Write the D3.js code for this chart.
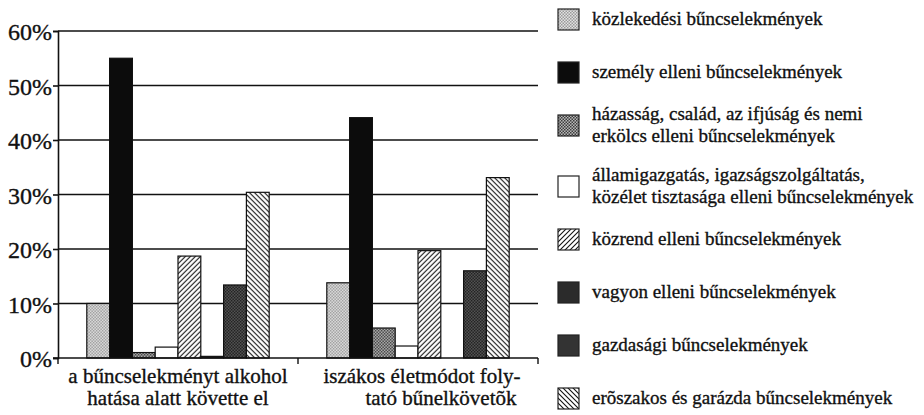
<!DOCTYPE html>
<html>
<head>
<meta charset="utf-8">
<script src="https://cdn.jsdelivr.net/npm/d3@7"></script>
<style>
  body { margin: 0; background: #fff; }
  svg { display: block; }
  text { font-family: "Liberation Serif", "Times New Roman", serif; fill: #111; stroke: #111; stroke-width: 0.35px; }
</style>
</head>
<body>
<div id="chart"></div>
<script>
const width = 924;
const height = 415;

// data
const groups = [
    ["a bűncselekményt alkohol", "hatása alatt követte el"],
    ["iszákos életmódot foly-", "tató bűnelkövetõk"]
];
const seriesNames = [
    ["közlekedési bűncselekmények"],
    ["személy elleni bűncselekmények"],
    ["házasság, család, az ifjúság és nemi", "erkölcs elleni bűncselekmények"],
    ["államigazgatás, igazságszolgáltatás,", "közélet tisztasága elleni bűncselekmények"],
    ["közrend elleni bűncselekmények"],
    ["vagyon elleni bűncselekmények"],
    ["gazdasági bűncselekmények"],
    ["erõszakos és garázda bűncselekmények"]
];
const alkoholValues = [10, 55, 1, 2, 18.7, 0.3, 13.4, 30.4];
const iszakosValues = [13.8, 44.1, 5.5, 2.2, 19.7, 0, 16, 33.1];
const yTicks = [0, 10, 20, 30, 40, 50, 60];

const values = [alkoholValues, iszakosValues];

const svg = d3.select('#chart').append('svg').attr('width', width).attr('height', height);

// patterns
const defs = svg.append('defs');

function dotPattern(id, bg, fg, size) {
    const p = defs.append('pattern').attr('id', id).attr('patternUnits', 'userSpaceOnUse')
        .attr('width', size).attr('height', size);
    p.append('rect').attr('width', size).attr('height', size).attr('fill', bg);
    p.append('rect').attr('width', size / 2).attr('height', size / 2).attr('fill', fg);
    p.append('rect').attr('x', size / 2).attr('y', size / 2).attr('width', size / 2).attr('height', size / 2).attr('fill', fg);
}
function hatchPattern(id, dir) {
    const s = 5;
    const p = defs.append('pattern').attr('id', id).attr('patternUnits', 'userSpaceOnUse')
        .attr('width', s).attr('height', s);
    p.append('rect').attr('width', s).attr('height', s).attr('fill', '#fff');
    const d = dir > 0
        ? `M0,${s} L${s},0 M-1,1 L1,-1 M${s - 1},${s + 1} L${s + 1},${s - 1}`
        : `M0,0 L${s},${s} M-1,${s - 1} L1,${s + 1} M${s - 1},-1 L${s + 1},1`;
    p.append('path').attr('d', d).attr('stroke', '#111').attr('stroke-width', 1.1);
}
dotPattern('p-kozl', '#e2e2e2', '#9a9a9a', 3);
dotPattern('p-haz', '#b8b8b8', '#3c3c3c', 3);
hatchPattern('p-kozrend', 1);
dotPattern('p-gazd', '#5a5a5a', '#1c1c1c', 3);
hatchPattern('p-eroszak', -1);

const fills = ['url(#p-kozl)', '#0c0c0c', 'url(#p-haz)', '#ffffff', 'url(#p-kozrend)', '#2b2b2b', 'url(#p-gazd)', 'url(#p-eroszak)'];
const legendFills = ['url(#p-kozl)', '#0c0c0c', 'url(#p-haz)', '#ffffff', 'url(#p-kozrend)', '#2b2b2b', '#333', 'url(#p-eroszak)'];

// scales
const plotLeft = 58, plotRight = 538, plotTop = 31, plotBottom = 358;

const x = d3.scaleBand().domain(d3.range(groups.length)).range([plotLeft, plotRight])
    .paddingInner(0.24).paddingOuter(0.12);
const xs = d3.scaleBand().domain(d3.range(seriesNames.length)).range([0, x.bandwidth()]);
const y = d3.scaleLinear().domain([0, 60]).range([plotBottom, plotTop]);

// gridlines
svg.append('g').selectAll('line').data(yTicks.filter(d => d > 0)).enter().append('line')
    .attr('x1', plotLeft).attr('x2', plotRight)
    .attr('y1', d => y(d)).attr('y2', d => y(d))
    .attr('stroke', '#111').attr('stroke-width', 1.6);

// y axis
const yAxis = svg.append('g').attr('transform', `translate(${plotLeft},0)`)
    .call(d3.axisLeft(y).tickValues(yTicks).tickSize(5).tickFormat(d => d + '%'));
yAxis.select('.domain').attr('stroke', '#111').attr('stroke-width', 1.6);
yAxis.selectAll('.tick line').attr('stroke', '#111').attr('stroke-width', 1.6);
yAxis.selectAll('.tick text').attr('x', -6).attr('dy', '0.36em')
    .style('font-size', '24px').style('fill', '#111');

// bars
const g = svg.append('g');
g.selectAll('g').data(values).enter().append('g')
    .attr('transform', (d, i) => `translate(${x(i)},0)`)
    .selectAll('rect').data(d => d).enter().append('rect')
    .attr('x', (d, i) => xs(i))
    .attr('y', d => y(d))
    .attr('width', xs.bandwidth())
    .attr('height', d => plotBottom - y(d))
    .attr('fill', (d, i) => fills[i])
    .attr('stroke', '#111').attr('stroke-width', 1.2);

// x axis
svg.append('line').attr('x1', plotLeft - 5).attr('x2', plotRight).attr('y1', plotBottom).attr('y2', plotBottom)
    .attr('stroke', '#111').attr('stroke-width', 1.6);
const seps = [plotLeft, plotLeft + x.step(), plotRight];
svg.append('g').selectAll('line').data(seps).enter().append('line')
    .attr('x1', d => d).attr('x2', d => d).attr('y1', plotBottom).attr('y2', plotBottom + 6)
    .attr('stroke', '#111').attr('stroke-width', 1.4);

// category labels
const labelShift = [[0, 0], [4, 23]];
groups.forEach((lines, gi) => {
    svg.append('text')
        .attr('text-anchor', 'middle')
        .style('font-size', '21px')
        .selectAll('tspan').data(lines).enter().append('tspan')
        .attr('x', (d, li) => x(gi) + x.bandwidth() / 2 + labelShift[gi][li])
        .attr('y', (d, li) => 383 + li * 22)
        .text(d => d);
});

// legend
const legend = svg.append('g');
seriesNames.forEach((lines, i) => {
    const cy = 20 + i * 53 + (i >= 3 ? 8 : 0);
    legend.append('rect')
        .attr('x', 558).attr('y', cy - 11).attr('width', 21).attr('height', 21)
        .attr('fill', legendFills[i]).attr('stroke', '#222').attr('stroke-width', 1.2);
    legend.append('text')
        .style('font-size', '19px')
        .selectAll('tspan').data(lines).enter().append('tspan')
        .attr('x', 592)
        .attr('y', (d, li) => cy + 5 - (lines.length - 1) * 11 + li * 22)
        .text(d => d);
});
</script>
</body>
</html>
